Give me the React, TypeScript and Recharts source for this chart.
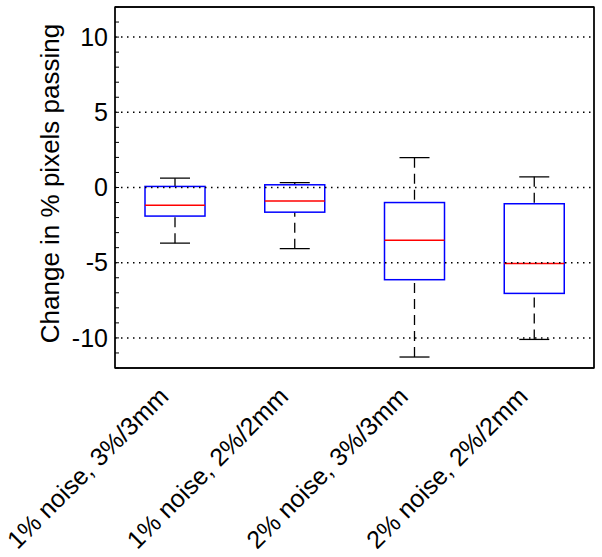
import { ComposedChart, Bar, Line, XAxis, YAxis, ReferenceLine, ReferenceArea } from "recharts";

const categories = [
  "1% noise, 3%/3mm",
  "1% noise, 2%/2mm",
  "2% noise, 3%/3mm",
  "2% noise, 2%/2mm",
];
const whiskerLow = [-3.7, -4.07, -11.27, -10.1];
const quartile1 = [-1.9, -1.64, -6.13, -7.04];
const medians = [-1.18, -0.9, -3.5, -5.05];
const quartile3 = [0.07, 0.18, -1.0, -1.08];
const whiskerHigh = [0.62, 0.33, 1.98, 0.71];

const majorTicks = [-10, -5, 0, 5, 10];
const minorTicks = Array.from({ length: 25 }, (_, i) => i - 12);

const data = categories.map((name, i) => ({
  name,
  low: whiskerLow[i],
  q1: quartile1[i],
  median: medians[i],
  q3: quartile3[i],
  high: whiskerHigh[i],
  range: [whiskerLow[i], whiskerHigh[i]],
}));

const FONT = "'Liberation Sans', Arial, sans-serif";

function BoxShape(props: any) {
  const { x, y, width, height, payload } = props;
  const { low, q1, median, q3, high } = payload;
  // map values through the bar's own pixel extent (high -> y, low -> y + height)
  const toPx = (v: number) => y + ((high - v) / (high - low)) * height;
  const cx = x + width / 2;
  const cap = width / 4;
  return (
    <g>
      <line x1={cx} x2={cx} y1={toPx(high)} y2={toPx(q3)} stroke="#000" strokeWidth={1.3} strokeDasharray="10 6" />
      <line x1={cx} x2={cx} y1={toPx(low)} y2={toPx(q1)} stroke="#000" strokeWidth={1.3} strokeDasharray="10 6" />
      <line x1={cx - cap} x2={cx + cap} y1={toPx(high)} y2={toPx(high)} stroke="#000" strokeWidth={1.3} />
      <line x1={cx - cap} x2={cx + cap} y1={toPx(low)} y2={toPx(low)} stroke="#000" strokeWidth={1.3} />
      <rect
        x={x}
        y={toPx(q3)}
        width={width}
        height={toPx(q1) - toPx(q3)}
        fill="none"
        stroke="#0000ff"
        strokeWidth={1.5}
      />
      <line x1={x} x2={x + width} y1={toPx(median)} y2={toPx(median)} stroke="#ff0000" strokeWidth={1.5} />
    </g>
  );
}

function XTick({ x, y, payload }: any) {
  const ax = x - 5;
  const ay = y + 30;
  return (
    <text
      x={ax}
      y={ay}
      transform={`rotate(-45, ${ax}, ${ay})`}
      textAnchor="end"
      fontSize={25}
      fontFamily={FONT}
      fill="#000"
    >
      {payload.value}
    </text>
  );
}

function YTick({ x, y, payload }: any) {
  if (!majorTicks.includes(payload.value)) return <g />;
  return (
    <text x={x} y={y} dy="0.35em" textAnchor="end" fontSize={25} fontFamily={FONT} fill="#000">
      {payload.value}
    </text>
  );
}

function YTitle({ viewBox }: any) {
  const cy = viewBox.y + viewBox.height / 2 - 4;
  return (
    <text
      x={50}
      y={cy}
      transform={`rotate(-90, 50, ${cy})`}
      textAnchor="middle"
      dominantBaseline="central"
      fontSize={26}
      fontFamily={FONT}
      fill="#000"
    >
      Change in % pixels passing
    </text>
  );
}

export default function App() {
  return (
    <div style={{ width: 602, height: 557, background: "#fff" }}>
      <style>{"body{margin:0}"}</style>
      <ComposedChart
        width={602}
        height={557}
        data={data}
        margin={{ top: 6, right: 7, left: 0, bottom: 0 }}
      >
        <XAxis
          dataKey="name"
          interval={0}
          height={189}
          tickLine={false}
          tickSize={0}
          tickMargin={0}
          axisLine={{ stroke: "#000", strokeWidth: 1.3 }}
          tick={<XTick />}
        />
        <XAxis
          xAxisId="top"
          dataKey="name"
          orientation="top"
          height={1}
          tick={false}
          tickLine={false}
          axisLine={{ stroke: "#000", strokeWidth: 1.3 }}
        />
        <YAxis
          type="number"
          domain={[-12, 12]}
          ticks={minorTicks}
          interval={0}
          width={115}
          tickSize={-4}
          tickMargin={11}
          tickLine={{ stroke: "#000" }}
          axisLine={{ stroke: "#000", strokeWidth: 1.3 }}
          tick={<YTick />}
          allowDataOverflow
          label={<YTitle />}
        />
        <YAxis
          yAxisId="right"
          orientation="right"
          type="number"
          domain={[-12, 12]}
          ticks={minorTicks}
          interval={0}
          width={1}
          tickSize={-4}
          tick={false}
          tickLine={{ stroke: "#000" }}
          axisLine={{ stroke: "#000", strokeWidth: 1.3 }}
          allowDataOverflow
        />
        <ReferenceArea
          y1={-12}
          y2={12}
          fill="none"
          stroke="#000"
          strokeWidth={1.3}
          ifOverflow="visible"
        />
        {majorTicks.map((v) => (
          <ReferenceLine
            key={v}
            y={v}
            stroke="#000"
            strokeWidth={1.5}
            strokeDasharray="1.5 4.5"
          />
        ))}
        <Bar
          dataKey="range"
          barSize={60}
          fill="none"
          shape={<BoxShape />}
          isAnimationActive={false}
        />
        <Line
          xAxisId="top"
          yAxisId="right"
          dataKey="median"
          stroke="none"
          dot={false}
          activeDot={false}
          legendType="none"
          isAnimationActive={false}
        />
      </ComposedChart>
    </div>
  );
}
